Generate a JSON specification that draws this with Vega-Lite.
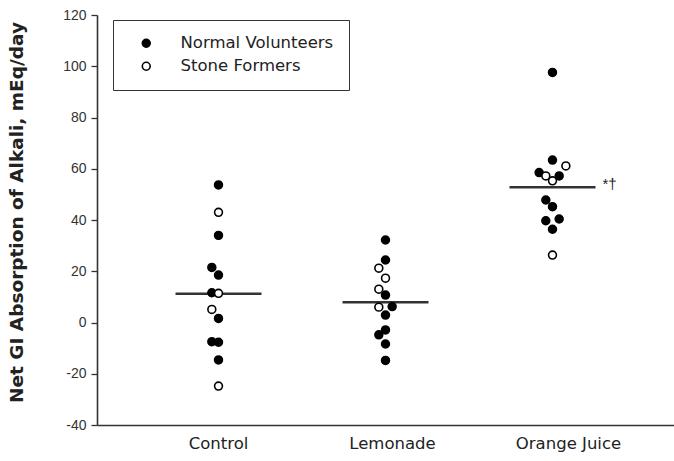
{
  "$schema": "https://vega.github.io/schema/vega-lite/v6.json",
  "width": 577,
  "height": 410,
  "autosize": {"type": "none"},
  "padding": {"left": 97, "top": 15, "right": 0, "bottom": 36},
  "background": "white",
  "config": {
    "view": {"stroke": null},
    "font": "Liberation Sans"
  },
  "data": {
    "values": [
      {"group": "Control", "subject": "Normal Volunteers", "value": 53.7, "lane": 0},
      {"group": "Control", "subject": "Normal Volunteers", "value": 34.0, "lane": 0},
      {"group": "Control", "subject": "Normal Volunteers", "value": 21.5, "lane": -1},
      {"group": "Control", "subject": "Normal Volunteers", "value": 18.5, "lane": 0},
      {"group": "Control", "subject": "Normal Volunteers", "value": 11.6, "lane": -1},
      {"group": "Control", "subject": "Normal Volunteers", "value": 1.6, "lane": 0},
      {"group": "Control", "subject": "Normal Volunteers", "value": -7.5, "lane": -1},
      {"group": "Control", "subject": "Normal Volunteers", "value": -7.7, "lane": 0},
      {"group": "Control", "subject": "Normal Volunteers", "value": -14.6, "lane": 0},
      {"group": "Lemonade", "subject": "Normal Volunteers", "value": 32.2, "lane": 0},
      {"group": "Lemonade", "subject": "Normal Volunteers", "value": 24.4, "lane": 0},
      {"group": "Lemonade", "subject": "Normal Volunteers", "value": 10.7, "lane": 0},
      {"group": "Lemonade", "subject": "Normal Volunteers", "value": 6.2, "lane": 1},
      {"group": "Lemonade", "subject": "Normal Volunteers", "value": 2.9, "lane": 0},
      {"group": "Lemonade", "subject": "Normal Volunteers", "value": -2.9, "lane": 0},
      {"group": "Lemonade", "subject": "Normal Volunteers", "value": -4.8, "lane": -1},
      {"group": "Lemonade", "subject": "Normal Volunteers", "value": -8.4, "lane": 0},
      {"group": "Lemonade", "subject": "Normal Volunteers", "value": -14.8, "lane": 0},
      {"group": "Orange Juice", "subject": "Normal Volunteers", "value": 97.6, "lane": 0},
      {"group": "Orange Juice", "subject": "Normal Volunteers", "value": 63.4, "lane": 0},
      {"group": "Orange Juice", "subject": "Normal Volunteers", "value": 58.5, "lane": -2},
      {"group": "Orange Juice", "subject": "Normal Volunteers", "value": 57.2, "lane": 1},
      {"group": "Orange Juice", "subject": "Normal Volunteers", "value": 47.8, "lane": -1},
      {"group": "Orange Juice", "subject": "Normal Volunteers", "value": 45.2, "lane": 0},
      {"group": "Orange Juice", "subject": "Normal Volunteers", "value": 40.4, "lane": 1},
      {"group": "Orange Juice", "subject": "Normal Volunteers", "value": 39.7, "lane": -1},
      {"group": "Orange Juice", "subject": "Normal Volunteers", "value": 36.4, "lane": 0},
      {"group": "Control", "subject": "Stone Formers", "value": 43.0, "lane": 0},
      {"group": "Control", "subject": "Stone Formers", "value": 11.4, "lane": 0},
      {"group": "Control", "subject": "Stone Formers", "value": 5.1, "lane": -1},
      {"group": "Control", "subject": "Stone Formers", "value": -24.8, "lane": 0},
      {"group": "Lemonade", "subject": "Stone Formers", "value": 21.2, "lane": -1},
      {"group": "Lemonade", "subject": "Stone Formers", "value": 17.3, "lane": 0},
      {"group": "Lemonade", "subject": "Stone Formers", "value": 13.0, "lane": -1},
      {"group": "Lemonade", "subject": "Stone Formers", "value": 6.0, "lane": -1},
      {"group": "Orange Juice", "subject": "Stone Formers", "value": 61.1, "lane": 2},
      {"group": "Orange Juice", "subject": "Stone Formers", "value": 57.2, "lane": -1},
      {"group": "Orange Juice", "subject": "Stone Formers", "value": 55.3, "lane": 0},
      {"group": "Orange Juice", "subject": "Stone Formers", "value": 26.3, "lane": 0}
    ]
  },
  "encoding": {
    "x": {
      "field": "group",
      "type": "nominal",
      "sort": ["Control", "Lemonade", "Orange Juice"],
      "scale": {"paddingInner": 0.5, "paddingOuter": 0.4776},
      "axis": {
        "title": null,
        "labelAngle": 0,
        "ticks": false,
        "domainColor": "#333333",
        "domainWidth": 1.6,
        "labelFont": "DejaVu Sans",
        "labelFontSize": 16.5,
        "labelColor": "#222222",
        "labelPadding": 10,
        "labelOffset": {"expr": "datum.value == 'Lemonade' ? 7 : datum.value == 'Orange Juice' ? 16 : 0"}
      }
    },
    "y": {
      "field": "value",
      "type": "quantitative",
      "scale": {"domain": [-40, 120], "nice": false, "zero": false},
      "axis": {
        "title": "Net GI Absorption of Alkali, mEq/day",
        "values": [-40, -20, 0, 20, 40, 60, 80, 100, 120],
        "labelExpr": "'' + datum.value",
        "grid": false,
        "tickSize": 6,
        "tickColor": "#333333",
        "tickWidth": 1.3,
        "domainColor": "#333333",
        "domainWidth": 1.6,
        "labelFont": "Liberation Sans",
        "labelFontSize": 14,
        "labelColor": "#333333",
        "labelPadding": 5,
        "titleFont": "DejaVu Sans",
        "titleFontSize": 18.5,
        "titleFontWeight": "bold",
        "titleColor": "#222222",
        "titlePadding": 36,
        "titleY": 197
      }
    }
  },
  "layer": [
    {
      "mark": {"type": "tick", "size": 86, "thickness": 2.5, "color": "#333333"},
      "encoding": {
        "y": {"aggregate": "mean", "field": "value", "type": "quantitative"}
      }
    },
    {
      "mark": {"type": "point", "shape": "circle", "size": 62, "stroke": "black", "strokeWidth": 1.6, "opacity": 1, "filled": false},
      "encoding": {
        "xOffset": {
          "field": "lane",
          "type": "ordinal",
          "scale": {"type": "point", "domain": [-2, -1, 0, 1, 2], "padding": 0, "range": [28.4, 55.1]}
        },
        "fill": {
          "field": "subject",
          "type": "nominal",
          "scale": {"domain": ["Normal Volunteers", "Stone Formers"], "range": ["black", "white"]},
          "legend": {
            "title": null,
            "orient": "none",
            "legendX": 16,
            "legendY": 5,
            "padding": 15,
            "symbolOffset": 10,
            "symbolSize": 62,
            "symbolType": "circle",
            "symbolStrokeColor": "black",
            "symbolStrokeWidth": 1.6,
            "labelFont": "DejaVu Sans",
            "labelFontSize": 16.5,
            "labelColor": "#222222",
            "labelOffset": 26,
            "rowPadding": 6,
            "strokeColor": "#333333",
            "labelLimit": 300
          }
        }
      }
    },
    {
      "data": {"values": [{"group": "Orange Juice", "value": 52.8, "mark": "*†"}]},
      "mark": {"type": "text", "align": "left", "baseline": "middle", "dx": 50, "dy": -3, "fontSize": 15, "font": "Liberation Sans", "fill": "#222222"},
      "encoding": {"text": {"field": "mark"}}
    }
  ]
}
